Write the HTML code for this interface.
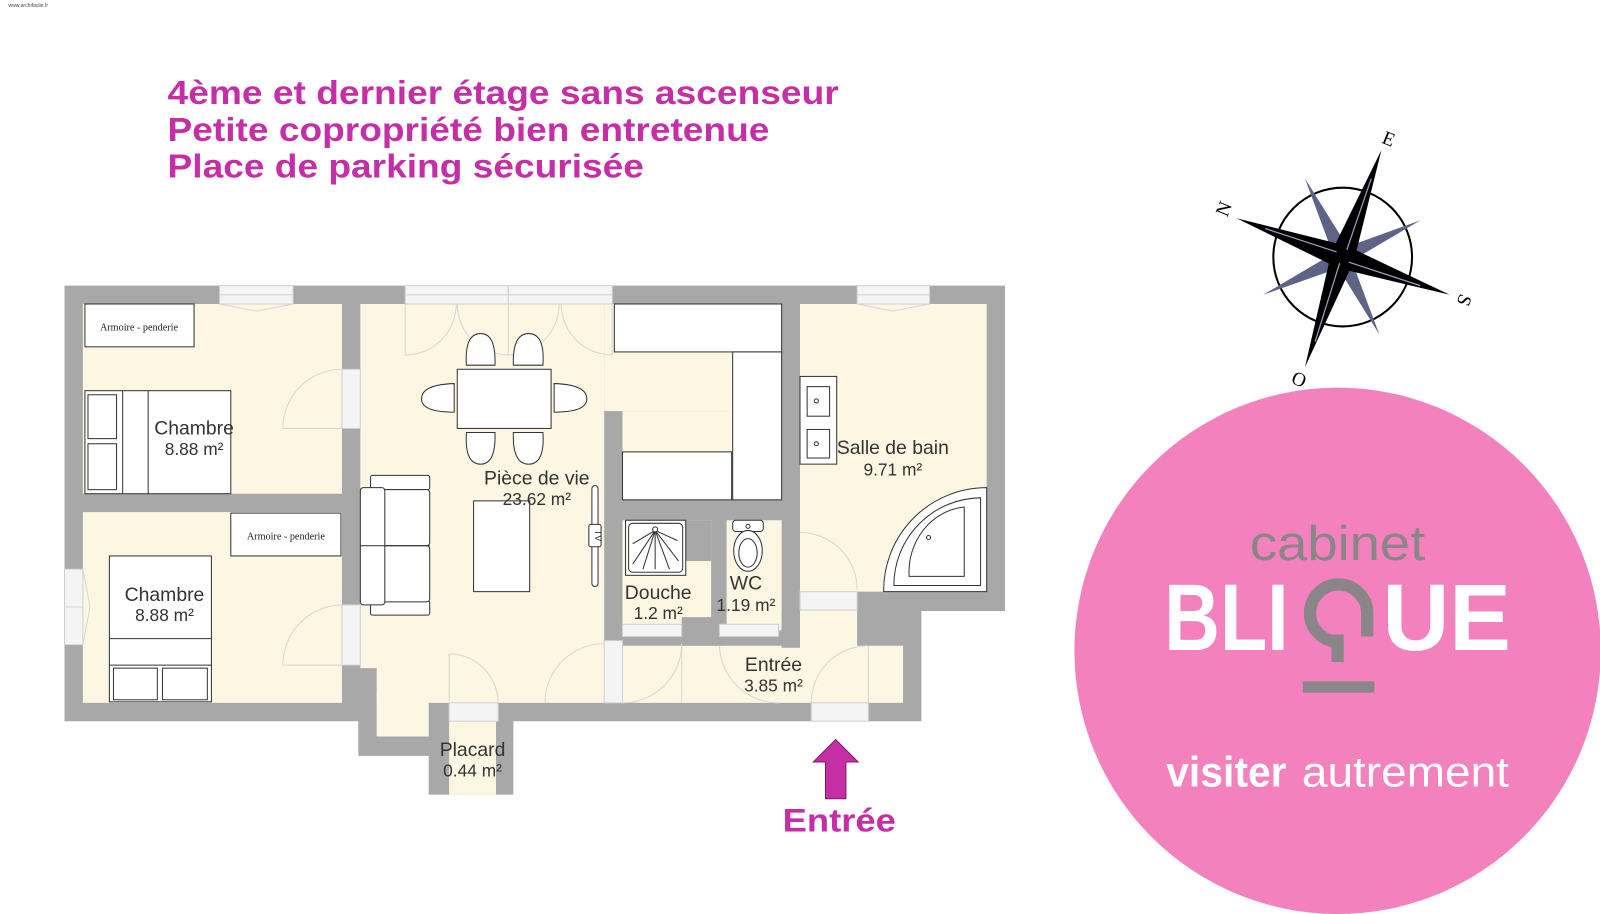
<!DOCTYPE html>
<html><head><meta charset="utf-8"><style>
html,body{margin:0;padding:0;background:#fff;}
svg{display:block;}
text{font-family:"Liberation Sans",Arial,sans-serif;}
text.serif{font-family:"Liberation Serif","DejaVu Serif",serif;}
</style></head><body>
<svg width="1600" height="914" viewBox="0 0 1568 896" xmlns="http://www.w3.org/2000/svg">
<rect width="1568" height="896" fill="#fff"/>
<text x="8" y="7" font-size="5" fill="#444">www.archifacile.fr</text>

<g fill="#c62ea6" font-weight="bold" font-size="33">
<text x="164" y="102" textLength="658" lengthAdjust="spacingAndGlyphs">4ème et dernier étage sans ascenseur</text>
<text x="164" y="138" textLength="590" lengthAdjust="spacingAndGlyphs">Petite copropriété bien entretenue</text>
<text x="164" y="174" textLength="467" lengthAdjust="spacingAndGlyphs">Place de parking sécurisée</text>
</g>

<polygon fill="#a8a8a8" points="63,280 985,280 985,599 903,599 903,707 503,707 503,779 420,779 420,741 351,741 351,707 63,707"/>
<g fill="#fcf6e2">
<rect x="81" y="298" width="254" height="186"/>
<rect x="81" y="502" width="254" height="187"/>
<rect x="353" y="298" width="239" height="357"/>
<rect x="369" y="640" width="223" height="49"/>
<rect x="369" y="680" width="51" height="42"/>
<rect x="592" y="298" width="174" height="105"/>
<rect x="610" y="403" width="156" height="87"/>
<rect x="610" y="510" width="87" height="108"/>
<rect x="712" y="510" width="54" height="108"/>
<rect x="610" y="633" width="275" height="56"/>
<rect x="784" y="298" width="183" height="282"/>
<rect x="784" y="575" width="56" height="60"/>
<rect x="440" y="707" width="46" height="72"/>
</g>
<rect x="668" y="605" width="44" height="28" fill="#a8a8a8"/>
<rect x="766" y="600" width="18" height="35" fill="#a8a8a8"/>
<rect x="697" y="510" width="15" height="95" fill="#a8a8a8"/>
<rect x="672" y="510" width="25" height="40" fill="#a8a8a8"/>
<g fill="#f4f4f4" stroke="#d0d0d0" stroke-width="1">
<rect x="215" y="280" width="72" height="18"/>
<rect x="397" y="280" width="101" height="18"/>
<rect x="498" y="280" width="102" height="18"/>
<rect x="840" y="280" width="71" height="18"/>
<rect x="63" y="558" width="18" height="74"/>
<rect x="335" y="362" width="18" height="58"/>
<rect x="335" y="593" width="18" height="59"/>
<rect x="440" y="689" width="48" height="18"/>
<rect x="795" y="689" width="56" height="18"/>
<rect x="592" y="628" width="18" height="61"/>
<rect x="610" y="612" width="58" height="12"/>
<rect x="705" y="612" width="58" height="12"/>
<rect x="784" y="580" width="56" height="18"/>
</g>
<g stroke="#d6d6d6" fill="none" stroke-width="1">
<line x1="63" y1="595" x2="81" y2="595"/><line x1="215" y1="289" x2="287" y2="289"/>
<line x1="397" y1="289" x2="600" y2="289"/><line x1="840" y1="289" x2="911" y2="289"/>
<path d="M277,420 A58,58 0 0 1 335,362 M277,420 L335,420"/>
<path d="M277,652 A59,59 0 0 1 335,593 M277,652 L335,652"/>
<path d="M397,298 L397,348 A50,50 0 0 0 447,298"/>
<path d="M498,298 L498,348 A50,50 0 0 1 448,298"/>
<path d="M600,298 L600,348 A50,50 0 0 1 550,298"/>
<path d="M498,348 A50,50 0 0 0 548,298"/>
<path d="M440,641 L440,689 M440,641 A48,48 0 0 1 488,689"/>
<path d="M534,689 A58,58 0 0 1 592,631"/>
<path d="M610,689 A58,58 0 0 0 668,631 L668,689"/>
<path d="M705,633 A58,58 0 0 0 763,689"/>
<path d="M795,689 A56,56 0 0 1 851,633 L851,689"/>
<path d="M784,522 A56,56 0 0 1 840,578"/>
<path d="M215,298 L251,305 L287,298 M840,298 L875,305 L911,298 M81,558 L88,595 L81,632"/>
</g>

<g fill="#fff" stroke="#333" stroke-width="1">
<rect x="83" y="298" width="107" height="42"/>
<rect x="83" y="383" width="143" height="101"/>
<rect x="86" y="387" width="28" height="43"/><rect x="86" y="435" width="28" height="45"/>
<line x1="120" y1="383" x2="120" y2="484"/><line x1="145" y1="383" x2="145" y2="484"/>
<rect x="226" y="503" width="108" height="42"/>
<rect x="107" y="545" width="100" height="143"/>
<line x1="107" y1="626" x2="207" y2="626"/><line x1="107" y1="652" x2="207" y2="652"/>
<rect x="111" y="655" width="43" height="31"/><rect x="159" y="655" width="44" height="31"/>
<rect x="448" y="362" width="92" height="58"/>
<path d="M457,358 Q455,327 471,327 Q486,327 485,358 Z"/>
<path d="M503,358 Q502,327 518,327 Q534,327 532,358 Z"/>
<path d="M457,424 Q455,455 471,455 Q486,455 485,424 Z"/>
<path d="M503,424 Q502,455 518,455 Q534,455 532,424 Z"/>
<path d="M445,376 Q413,377 413,391 Q413,404 445,404 Z"/>
<path d="M543,376 Q575,377 575,391 Q575,404 543,404 Z"/>
<rect x="363" y="466" width="58" height="14" rx="2"/>
<rect x="363" y="589" width="58" height="14" rx="2"/>
<rect x="363" y="480" width="58" height="55" rx="3"/>
<rect x="363" y="535" width="58" height="55" rx="3"/>
<rect x="353" y="478" width="24" height="115" rx="3"/>
<line x1="353" y1="535" x2="421" y2="535"/>
<rect x="464" y="491" width="55" height="89"/>
<rect x="580" y="476" width="6" height="99" rx="3"/>
<rect x="577" y="514" width="12" height="22" rx="2"/>
<rect x="602" y="298" width="164" height="47"/>
<rect x="718" y="345" width="48" height="145"/>
<rect x="610" y="443" width="107" height="47"/>
<rect x="613" y="510" width="59" height="54"/>
<rect x="616" y="513" width="53" height="48" rx="4"/>
<path d="M642,520 L620,553 M642,520 L630,558 M642,520 L642,558 M642,520 L656,558 M642,520 L665,550 M642,520 L620,533 M642,520 L664,530" fill="none"/>
<circle cx="642" cy="519" r="2.5"/>
<rect x="718" y="510" width="30" height="11" rx="3"/>
<ellipse cx="733" cy="540" rx="14" ry="20"/>
<ellipse cx="733" cy="542" rx="9" ry="14"/>
<circle cx="733" cy="516" r="2"/>
<rect x="784" y="369" width="36" height="86"/>
<rect x="791" y="379" width="22" height="29"/><rect x="791" y="421" width="22" height="28"/>
<circle cx="800" cy="393" r="2"/><circle cx="800" cy="435" r="2"/>
<path d="M967,478 L967,580 L866,580 A101,101 0 0 1 967,478 Z"/>
<path d="M961,488 L961,574 L876,574 A86,86 0 0 1 961,488 Z"/>
<path d="M945,497 L945,565 L891,565 A60,64 0 0 1 945,497 Z"/>
<circle cx="910" cy="527" r="2"/>
</g>
<text x="583" y="525" font-size="9" fill="#333" transform="rotate(90 583 525)" text-anchor="middle">TV</text>
<g font-size="10" fill="#222" text-anchor="middle">
<text class="serif" x="136" y="324">Armoire - penderie</text>
<text class="serif" x="280" y="529">Armoire - penderie</text>
</g>

<g font-size="19" fill="#333" text-anchor="middle">
<text x="190" y="426">Chambre</text><text x="190" y="446" font-size="17">8.88 m²</text>
<text x="161" y="589">Chambre</text><text x="161" y="609" font-size="17">8.88 m²</text>
<text x="526" y="475">Pièce de vie</text><text x="526" y="495" font-size="17">23.62 m²</text>
<text x="875" y="445">Salle de bain</text><text x="875" y="466" font-size="17">9.71 m²</text>
<text x="645" y="587">Douche</text><text x="645" y="607" font-size="17">1.2 m²</text>
<text x="731" y="578">WC</text><text x="731" y="599" font-size="17">1.19 m²</text>
<text x="758" y="658">Entrée</text><text x="758" y="678" font-size="17">3.85 m²</text>
<text x="463" y="741">Placard</text><text x="463" y="761" font-size="17">0.44 m²</text>
</g>

<polygon points="819,725 841,747 829,747 829,783 809,783 809,747 797,747" fill="#c62ea6" stroke="#7a1b66" stroke-width="1"/>
<text x="767" y="815" font-size="32" font-weight="bold" fill="#c62ea6" textLength="111" lengthAdjust="spacingAndGlyphs">Entrée</text>

<g>
<circle cx="1316" cy="252" r="68" fill="none" stroke="#000" stroke-width="2"/>
<g fill="#5e6488">
<polygon points="1279,175 1324,247 1309,256"/>
<polygon points="1392,216 1321,258 1312,245"/>
<polygon points="1352,328 1308,257 1322,248"/>
<polygon points="1238,289 1311,246 1320,260"/>
</g>
<g fill="#000">
<polygon points="1212,214 1320,241 1312,263"/>
<polygon points="1354,147 1327,256 1305,247"/>
<polygon points="1421,289 1312,263 1320,241"/>
<polygon points="1279,360 1305,247 1327,256"/>
</g>
<g stroke="#9aa0c0" stroke-width="1.2">
<line x1="1240" y1="224" x2="1310" y2="247"/><line x1="1322" y1="257" x2="1392" y2="280"/>
<line x1="1344" y1="175" x2="1320" y2="245"/><line x1="1313" y1="258" x2="1289" y2="335"/>
</g>
<g font-size="19" fill="#000">
<text class="serif" x="1195" y="212" transform="rotate(-68 1200 207)">N</text>
<text class="serif" x="1355" y="142" transform="rotate(22 1360 137)">E</text>
<text class="serif" x="1430" y="300" transform="rotate(112 1435 294)">S</text>
<text class="serif" x="1268" y="378" transform="rotate(-158 1274 372)">O</text>
</g>
</g>

<circle cx="1311" cy="638" r="258" fill="#f281bd"/>
<text x="1225" y="549" font-size="48" fill="#8a8586" textLength="172" lengthAdjust="spacingAndGlyphs" style="font-weight:normal">cabinet</text>
<g fill="#fff" font-weight="bold" font-size="93">
<text x="1141" y="637" textLength="122" lengthAdjust="spacingAndGlyphs">BLI</text>
<text x="1355" y="637" textLength="126" lengthAdjust="spacingAndGlyphs">UE</text>
</g>
<path d="M1340,624 L1340,601 A28,28 0 1 0 1312,629" fill="none" stroke="#8a8586" stroke-width="12"/>
<rect x="1305" y="622" width="12" height="27" fill="#8a8586"/>
<rect x="1277" y="668" width="70" height="11" fill="#8a8586"/>
<text x="1143" y="771" font-size="42" fill="#fff" font-weight="bold" textLength="118" lengthAdjust="spacingAndGlyphs">visiter</text>
<text x="1276" y="771" font-size="42" fill="#fff" textLength="203" lengthAdjust="spacingAndGlyphs">autrement</text>
</svg>
</body></html>
